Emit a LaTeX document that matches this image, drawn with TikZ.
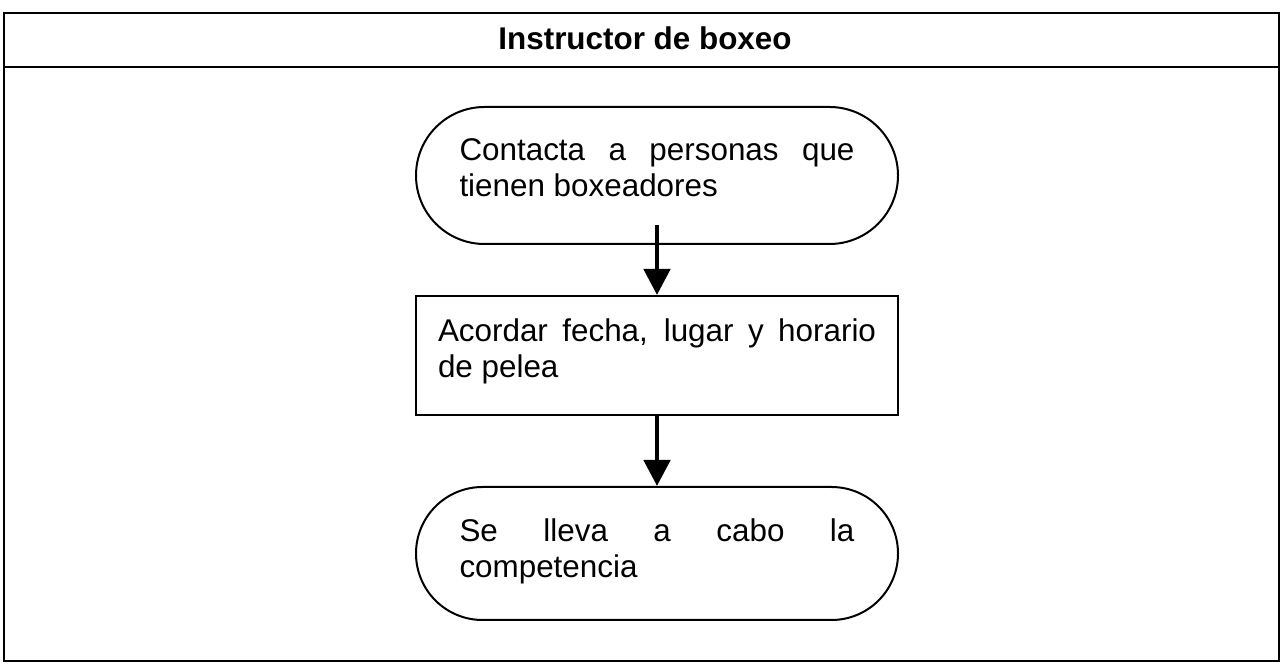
\documentclass[tikz,border=0pt]{standalone}
\usepackage{fontspec}
\setmainfont{Liberation Sans}
\usetikzlibrary{shapes.misc, arrows.meta, positioning}
\hyphenpenalty=10000

\begin{document}
\begin{tikzpicture}[x=0.5pt, y=-0.5pt, >={Triangle[width=13pt,length=13pt]},
		term/.style={draw, line width=1pt, rounded rectangle, minimum width=241pt, inner sep=0pt},
		proc/.style={draw, line width=1pt, rectangle, minimum width=241pt, inner sep=0pt},
		txt/.style={inner sep=0pt, align=justify, font=\fontsize{15.7}{18}\selectfont},
		flow/.style={->, line width=2.4pt}]
	\useasboundingbox (0,0) rectangle (1281,667);
	% marco y encabezado
	\draw[line width=1pt] (4,13) rectangle (1279,661);
	\draw[line width=1pt] (4,67) -- (1279,67);
	\node[font=\fontsize{15.7}{18}\selectfont\bfseries] (titulo) at (645,38) {Instructor de boxeo};
	% pasos
	\node[term, minimum height=68.5pt] (contacto) at (657,175.5) {};
	\node[proc, minimum height=59.5pt] (acuerdo) at (657,355.5) {};
	\node[term, minimum height=66.5pt] (pelea) at (657,553.5) {};
	\node[txt, text width=197.5pt, yshift=4pt] (t1) at (contacto) {Contacta a personas que\linebreak tienen boxeadores};
	\node[txt, text width=219pt, yshift=2pt] (t2) at (acuerdo) {Acordar fecha, lugar y horario\linebreak de pelea};
	\node[txt, text width=197.5pt, yshift=1pt] (t3) at (pelea) {Se lleva a cabo la\linebreak competencia};
	% flechas
	\draw[flow] ([yshift=10pt]contacto.south) -- (acuerdo.north);
	\draw[flow] (acuerdo.south) -- (pelea.north);
\end{tikzpicture}
\end{document}
